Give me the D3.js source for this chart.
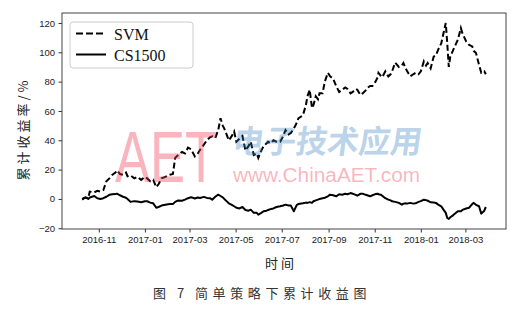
<!DOCTYPE html>
<html>
<head>
<meta charset="utf-8">
<script src="https://cdn.jsdelivr.net/npm/d3@7"></script>
<style>
    body { margin: 0; background: #fff; }
    svg { display: block; }
</style>
</head>
<body>
<svg width="519" height="311"></svg>
<script>
// trading dates
const dates = [
    '2016-10-10', '2016-10-14', '2016-10-18', '2016-10-20', '2016-10-26', '2016-10-30', '2016-11-03', '2016-11-07',
    '2016-11-11', '2016-11-15', '2016-11-19', '2016-11-23', '2016-11-25', '2016-11-29', '2016-12-03', '2016-12-07',
    '2016-12-09', '2016-12-13', '2016-12-18', '2016-12-22', '2016-12-27', '2017-01-01', '2017-01-04', '2017-01-08',
    '2017-01-12', '2017-01-16', '2017-01-19', '2017-01-23', '2017-01-28', '2017-02-03', '2017-02-07', '2017-02-10',
    '2017-02-14', '2017-02-19', '2017-02-23', '2017-02-27', '2017-03-03', '2017-03-08', '2017-03-12', '2017-03-15',
    '2017-03-20', '2017-03-24', '2017-03-28', '2017-03-31', '2017-04-04', '2017-04-08', '2017-04-11', '2017-04-14',
    '2017-04-16', '2017-04-19', '2017-04-22', '2017-04-26', '2017-04-29', '2017-05-02', '2017-05-06', '2017-05-10',
    '2017-05-14', '2017-05-18', '2017-05-21', '2017-05-25', '2017-05-29', '2017-05-31', '2017-06-04', '2017-06-07',
    '2017-06-11', '2017-06-13', '2017-06-17', '2017-06-20', '2017-06-24', '2017-06-29', '2017-07-03', '2017-07-06',
    '2017-07-10', '2017-07-13', '2017-07-17', '2017-07-21', '2017-07-23', '2017-07-29', '2017-08-02', '2017-08-04',
    '2017-08-07', '2017-08-10', '2017-08-12', '2017-08-15', '2017-08-18', '2017-08-20', '2017-08-24', '2017-08-27',
    '2017-08-31', '2017-09-03', '2017-09-07', '2017-09-11', '2017-09-15', '2017-09-19', '2017-09-23', '2017-09-26',
    '2017-09-30', '2017-10-03', '2017-10-07', '2017-10-09', '2017-10-13', '2017-10-16', '2017-10-20', '2017-10-22',
    '2017-10-26', '2017-10-29', '2017-11-02', '2017-11-05', '2017-11-06', '2017-11-09', '2017-11-11', '2017-11-15',
    '2017-11-19', '2017-11-22', '2017-11-24', '2017-11-28', '2017-12-03', '2017-12-07', '2017-12-09', '2017-12-12',
    '2017-12-14', '2017-12-18', '2017-12-22', '2017-12-25', '2017-12-29', '2018-01-01', '2018-01-05', '2018-01-08',
    '2018-01-10', '2018-01-14', '2018-01-18', '2018-01-21', '2018-01-24', '2018-01-28', '2018-01-31', '2018-02-03',
    '2018-02-05', '2018-02-07', '2018-02-09', '2018-02-13', '2018-02-19', '2018-02-23', '2018-02-25', '2018-03-02',
    '2018-03-06', '2018-03-10', '2018-03-12', '2018-03-15', '2018-03-19', '2018-03-22', '2018-03-26', '2018-03-28'
];

// cumulative return of the SVM strategy, %
const svmValues = [
    0, 1, 0.5, 5, 4.5, 5.5, 5, 6,
    12, 14, 16.5, 18, 19.5, 17, 16.5, 18,
    15.5, 16, 14, 15, 13, 15, 14, 12,
    13, 8, 10, 14, 15, 16.5, 17, 28,
    30, 32, 31, 35, 34, 29, 31, 33.5,
    37, 40, 42, 42.7, 41.5, 47, 55, 50,
    48, 44, 40, 43, 46, 39, 41, 43,
    33, 36, 39, 30, 31, 28, 33, 36,
    38, 39, 38, 40, 39, 39, 43, 47,
    44, 45, 48, 52, 55, 57, 64, 70,
    74.5, 62, 64, 70, 68, 72, 72, 80,
    86, 83.6, 82, 77, 73, 74.5, 76, 75,
    72, 73, 75, 74.5, 71, 72, 74, 75.7,
    77, 77, 80, 83, 86, 84, 83, 87,
    83.6, 85, 87, 93, 90, 91, 92.7, 89,
    87, 83.6, 85, 86, 85, 87, 93.8, 91,
    92.7, 89, 97, 98, 101.8, 106, 113, 120,
    106, 90, 97, 101.8, 108.6, 116.5, 113, 107.4,
    105, 104, 101, 99.5, 91.5, 86, 87, 85
];

// cumulative return of the CS1500 index, %
const csValues = [
    -0.5, 1, 0, 1, 2, 0.5, 0, 0.5,
    1.5, 2.8, 3.2, 3.3, 3.6, 2.5, 1.5, 0.8,
    0, -2, -1.5, -1.8, -2.3, -1.6, -1.6, -2.5,
    -3, -6, -5.5, -4.5, -4, -3.5, -3.4, -2,
    -1, -1.2, -0.5, 0.5, 1.2, 0.3, 1, 0.7,
    1.4, 0.7, 0.5, -0.5, 1.5, 2.9, 2, 1.1,
    0, -1.5, -3, -4, -5, -6, -6.5, -5.5,
    -7.5, -8, -7.3, -9.5, -9.5, -10.7, -9.5, -8.4,
    -8, -7.5, -6.8, -6.5, -5.5, -5, -4.5, -3.9,
    -4.5, -4.5, -8.4, -4, -3.5, -3, -2.5, -2.7,
    -2.2, -2.7, -1.6, -1, -0.5, 0, 0.5, 0.8,
    1.8, 2.9, 2.5, 1.8, 3.2, 2.9, 3.5, 3.2,
    4, 3.5, 2.8, 2.2, 3.5, 3.6, 2.8, 2.5,
    1.8, 2.5, 3.3, 3.6, 3.2, 2.9, 2.2, 0.5,
    -0.5, -1, -1.6, -2, -2.7, -3.9, -3.2, -3,
    -3.2, -2.7, -3.2, -3, -2, -1.5, -0.5, -0.8,
    -1.2, -2.3, -2.5, -2.7, -3.9, -5, -7.3, -9.5,
    -13, -13.6, -12.5, -11, -8.4, -8.4, -7.5, -6.5,
    -6, -3.5, -2.7, -4, -5, -10, -8, -5.5
];

const seriesNames = ['SVM', 'CS1500'];
const yTicks = [-20, 0, 20, 40, 60, 80, 100, 120];
const yLabel = '累计收益率/%';
const xLabel = '时间';
const caption = ['图 7', '简单策略下累计收益图'];

class Plot {
    constructor() {
        this.svg = d3.select('svg');
        this.margin = { top: 13, right: 13, bottom: 82, left: 62 }; // axes box inside the svg
        this.innerWidth = 519 - this.margin.left - this.margin.right;
        this.innerHeight = 311 - this.margin.top - this.margin.bottom;
        this.parse = d3.timeParse('%Y-%m-%d');
        this.dataset = [];
    }

    createPlot = () => {
        this.setData();
        this.setScales();
        this.setAxesContainer();
        this.drawLines();
        this.drawAxes();
        this.drawWatermark();
        this.drawLegend();
        this.drawTexts();
    }

    setData = () => {
        this.dataset = dates.map((d, i) => ({ date: this.parse(d), svm: svmValues[i], cs: csValues[i] }));
    }

    setScales = () => {
        // matplotlib style 5% padding on the time axis
        const [t0, t1] = d3.extent(this.dataset, d => d.date);
        const pad = (t1 - t0) * 0.05;
        this.xScale = d3.scaleTime()
            .domain([new Date(+t0 - pad), new Date(+t1 + pad)])
            .range([0, this.innerWidth]);
        this.yScale = d3.scaleLinear()
            .domain([-20.5, 126.8])
            .range([this.innerHeight, 0]);
    }

    setAxesContainer = () => {
        this.axesContainer = this.svg.append('g')
            .attr('transform', `translate(${this.margin.left},${this.margin.top})`);
    }

    drawLines = () => {
        const line = key => d3.line()
            .x(d => this.xScale(d.date))
            .y(d => this.yScale(d[key]));

        this.axesContainer.append('path')
            .datum(this.dataset)
            .attr('d', line('cs'))
            .attr('fill', 'none')
            .attr('stroke', '#000')
            .attr('stroke-width', 2)
            .attr('stroke-linejoin', 'round');

        this.axesContainer.append('path')
            .datum(this.dataset)
            .attr('d', line('svm'))
            .attr('fill', 'none')
            .attr('stroke', '#000')
            .attr('stroke-width', 2)
            .attr('stroke-dasharray', '6,3');
    }

    drawAxes = () => {
        const xAxis = d3.axisBottom(this.xScale)
            .ticks(d3.timeMonth.every(2))
            .tickFormat(d3.timeFormat('%Y-%m'))
            .tickSize(3.5)
            .tickPadding(3.5);
        const yAxis = d3.axisLeft(this.yScale)
            .tickValues(yTicks)
            .tickSize(3.5)
            .tickPadding(3.5);

        const gx = this.axesContainer.append('g')
            .attr('transform', `translate(0,${this.innerHeight})`)
            .call(xAxis);
        const gy = this.axesContainer.append('g').call(yAxis);

        [gx, gy].forEach(g => {
            g.select('.domain').remove();
            g.selectAll('line').attr('stroke', '#333');
            g.selectAll('text')
                .attr('fill', '#222')
                .style('font-family', '"Liberation Sans", Arial, sans-serif')
                .style('font-size', '9.5px');
        });

        // frame round the axes
        this.axesContainer.append('rect')
            .attr('width', this.innerWidth)
            .attr('height', this.innerHeight)
            .attr('fill', 'none')
            .attr('stroke', '#444')
            .attr('stroke-width', 1);
    }

    drawWatermark = () => {
        const wm = this.svg.append('g').attr('pointer-events', 'none');
        // condensed "AET", squeezed horizontally
        wm.append('text')
            .attr('transform', 'translate(115,182) scale(0.73,1)')
            .style('font-family', '"Liberation Sans", Arial, sans-serif')
            .style('font-size', '72px')
            .attr('fill', '#ef3a52').attr('fill-opacity', 0.38)
            .text('AET');
        wm.append('text')
            .attr('x', 233).attr('y', 153)
            .attr('textLength', 189).attr('lengthAdjust', 'spacingAndGlyphs')
            .attr('transform', 'skewX(-8)')
            .attr('dx', 20)
            .style('font-family', '"Noto Sans CJK SC", sans-serif')
            .style('font-weight', 'bold')
            .style('font-size', '32px')
            .attr('fill', '#3b82c4').attr('fill-opacity', 0.36)
            .text('电子技术应用');
        wm.append('text')
            .attr('x', 233).attr('y', 182)
            .attr('textLength', 187).attr('lengthAdjust', 'spacingAndGlyphs')
            .style('font-family', '"Liberation Sans", Arial, sans-serif')
            .style('font-size', '20px')
            .attr('fill', '#ef3a52').attr('fill-opacity', 0.38)
            .text('www.ChinaAET.com');
    }

    drawLegend = () => {
        const lg = this.svg.append('g');
        lg.append('rect')
            .attr('x', 70).attr('y', 22)
            .attr('width', 123).attr('height', 46)
            .attr('rx', 3)
            .attr('fill', '#fff').attr('fill-opacity', 0.8)
            .attr('stroke', '#ccc');

        seriesNames.forEach((name, i) => {
            const y = 33.5 + i * 21;
            lg.append('line')
                .attr('x1', 76).attr('x2', 106)
                .attr('y1', y).attr('y2', y)
                .attr('stroke', '#000')
                .attr('stroke-width', 2)
                .attr('stroke-dasharray', i === 0 ? '7,3' : null);
            lg.append('text')
                .attr('x', 114).attr('y', y + 6)
                .style('font-family', '"Liberation Serif", "Times New Roman", serif')
                .style('font-size', '16px')
                .attr('fill', '#111')
                .text(name);
        });
    }

    drawTexts = () => {
        const cjk = '"Noto Sans CJK SC", sans-serif';

        this.svg.append('text')
            .attr('transform', 'translate(28,129) rotate(-90)')
            .attr('text-anchor', 'middle')
            .style('font-family', cjk)
            .style('font-size', '13px')
            .style('letter-spacing', '3px')
            .attr('fill', '#222')
            .text(yLabel);

        this.svg.append('text')
            .attr('x', 281).attr('y', 268)
            .attr('text-anchor', 'middle')
            .style('font-family', cjk)
            .style('font-size', '13px')
            .style('letter-spacing', '3px')
            .attr('fill', '#222')
            .text(xLabel);

        this.svg.append('text')
            .attr('x', 153).attr('y', 298)
            .style('font-family', cjk)
            .style('font-size', '13px')
            .style('letter-spacing', '4px')
            .attr('fill', '#333')
            .text(caption[0]);

        this.svg.append('text')
            .attr('x', 195).attr('y', 298)
            .style('font-family', cjk)
            .style('font-size', '13px')
            .style('letter-spacing', '4.6px')
            .attr('fill', '#333')
            .text(caption[1]);
    }
}

new Plot().createPlot();
</script>
</body>
</html>
